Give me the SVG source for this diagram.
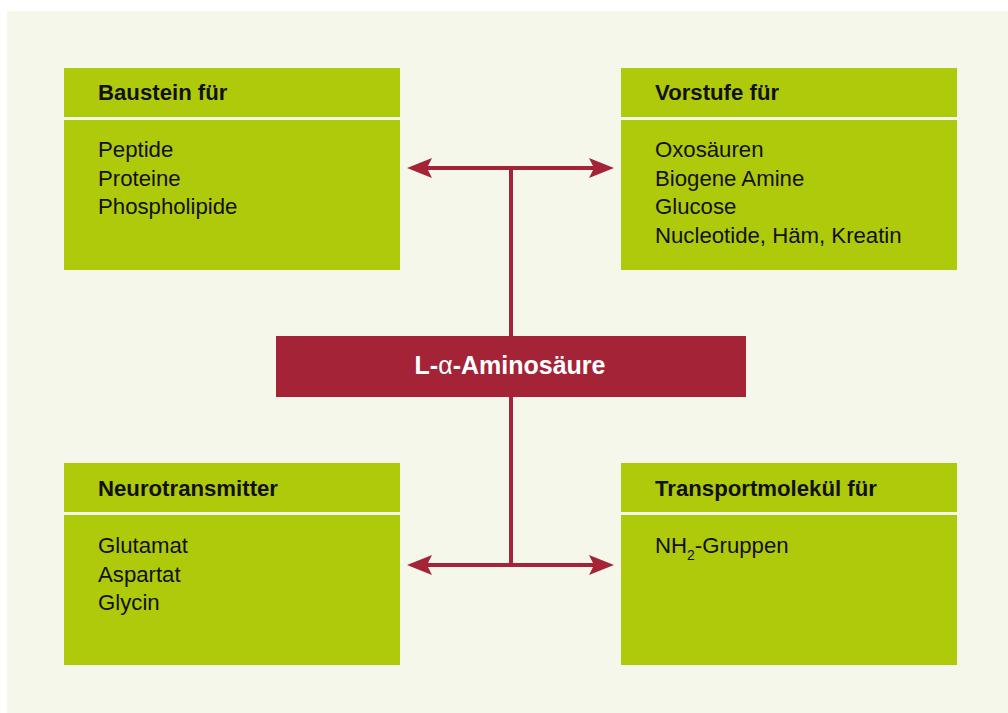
<svg xmlns="http://www.w3.org/2000/svg" width="1008" height="713" viewBox="0 0 1008 713">
  <defs>
    <style>
      .panel { fill: #F6F7EB; }
      .head { fill: #AFCA0B; }
      .body { fill: #AFCA0B; }
      .center { fill: #A42337; }
      .htxt { font-family: "Liberation Sans", Arial, sans-serif; font-weight: bold; font-size: 22.2px; fill: #111111; }
      .btxt { font-family: "Liberation Sans", Arial, sans-serif; font-size: 22.2px; fill: #111111; }
      .ctxt { font-family: "Liberation Sans", Arial, sans-serif; font-weight: bold; font-size: 25px; fill: #FFFFFF; }
      .line { stroke: #A42337; stroke-width: 4; fill: none; }
      .head-arrow { fill: #A42337; }
    </style>
  </defs>

  <rect x="0" y="0" width="1008" height="713" fill="#FFFFFF"/>
  <rect class="panel" x="7" y="11" width="1001" height="702"/>

  <!-- connectors -->
  <g id="connectors">
    <line class="line" x1="511" y1="168" x2="511" y2="565"/>
    <line class="line" x1="425" y1="168" x2="597" y2="168"/>
    <line class="line" x1="425" y1="565" x2="597" y2="565"/>
    <path class="head-arrow" d="M407,168 L432,158 L427,168 L432,178 Z"/>
    <path class="head-arrow" d="M614,168 L589,158 L594,168 L589,178 Z"/>
    <path class="head-arrow" d="M407,565 L432,555 L427,565 L432,575 Z"/>
    <path class="head-arrow" d="M614,565 L589,555 L594,565 L589,575 Z"/>
  </g>

  <!-- top-left node -->
  <g id="baustein">
    <rect class="head" x="64" y="68" width="336" height="49"/>
    <rect class="body" x="64" y="120" width="336" height="150"/>
    <text class="htxt" x="98" y="100">Baustein für</text>
    <text class="btxt" x="98" y="157">Peptide</text>
    <text class="btxt" x="98" y="185.5">Proteine</text>
    <text class="btxt" x="98" y="214">Phospholipide</text>
  </g>

  <!-- top-right node -->
  <g id="vorstufe">
    <rect class="head" x="621" y="68" width="336" height="49"/>
    <rect class="body" x="621" y="120" width="336" height="150"/>
    <text class="htxt" x="655" y="100">Vorstufe für</text>
    <text class="btxt" x="655" y="157">Oxosäuren</text>
    <text class="btxt" x="655" y="185.5">Biogene Amine</text>
    <text class="btxt" x="655" y="214">Glucose</text>
    <text class="btxt" x="655" y="242.5">Nucleotide, Häm, Kreatin</text>
  </g>

  <!-- center node -->
  <g id="aminosaeure">
    <rect class="center" x="276" y="336" width="470" height="61"/>
    <text class="ctxt" x="510" y="374" text-anchor="middle">L-<tspan font-weight="normal">α</tspan>-Aminosäure</text>
  </g>

  <!-- bottom-left node -->
  <g id="neurotransmitter">
    <rect class="head" x="64" y="463" width="336" height="49"/>
    <rect class="body" x="64" y="515" width="336" height="150"/>
    <text class="htxt" x="98" y="496">Neurotransmitter</text>
    <text class="btxt" x="98" y="553">Glutamat</text>
    <text class="btxt" x="98" y="581.5">Aspartat</text>
    <text class="btxt" x="98" y="610">Glycin</text>
  </g>

  <!-- bottom-right node -->
  <g id="transport">
    <rect class="head" x="621" y="463" width="336" height="49"/>
    <rect class="body" x="621" y="515" width="336" height="150"/>
    <text class="htxt" x="655" y="496">Transportmolekül für</text>
    <text class="btxt" x="655" y="553">NH<tspan font-size="14" dy="7">2</tspan><tspan dy="-7">-Gruppen</tspan></text>
  </g>
</svg>
